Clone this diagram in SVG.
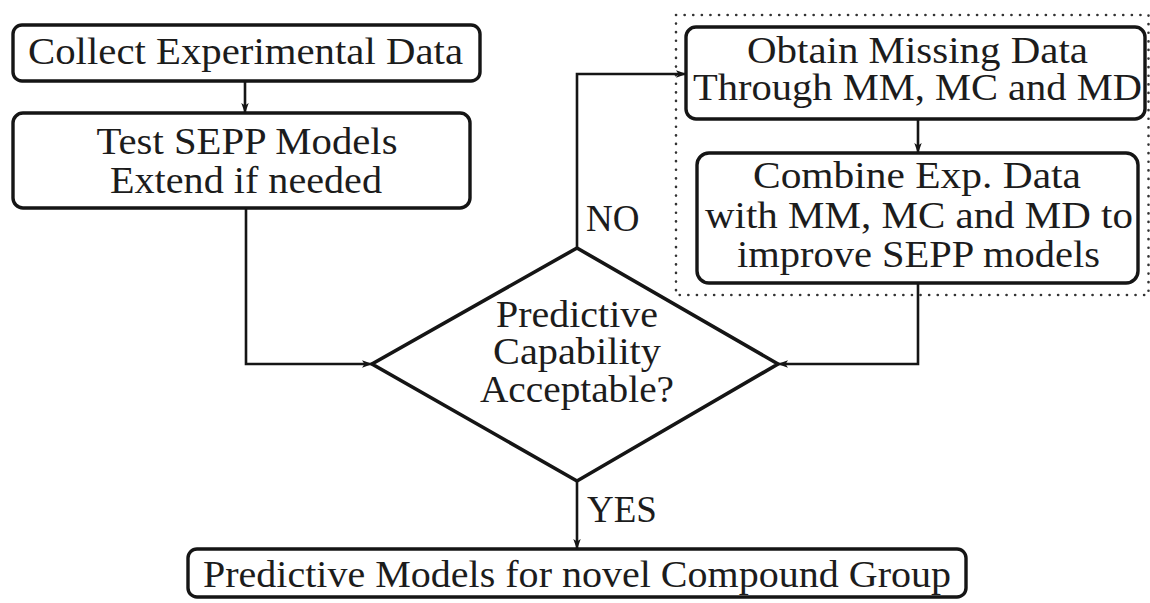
<svg xmlns="http://www.w3.org/2000/svg" width="1150" height="603" viewBox="0 0 1150 603">
  <defs>
    <marker id="tip" markerUnits="userSpaceOnUse" markerWidth="11" markerHeight="9" refX="10" refY="4.5" orient="auto">
      <path d="M0,0.8 L10.5,4.5 L0,8.2 L2.5,4.5 z" fill="#151515"/>
    </marker>
    <style>
      .box { fill: #fff; stroke: #151515; stroke-width: 3.4; }
      .dec { fill: #fff; stroke: #151515; stroke-width: 3.6; stroke-linejoin: miter; }
      .wire { fill: none; stroke: #151515; stroke-width: 2.6; marker-end: url(#tip); }
      .group { fill: none; stroke: #333; stroke-width: 2.6; stroke-dasharray: 0.1 8.5; stroke-linecap: round; }
      text { font-family: "Liberation Serif", "DejaVu Serif", serif; font-size: 37px; fill: #1c1c1c; }
      .c { text-anchor: middle; }
    </style>
  </defs>

  <rect width="1150" height="603" fill="#fff"/>

  <!-- dotted frame around the simulation steps -->
  <rect class="group" x="676" y="15" width="472.5" height="280"/>

  <g id="collect">
    <rect class="box" x="13" y="25" width="467" height="56" rx="9"/>
    <text class="c" x="245.5" y="64" textLength="435" lengthAdjust="spacingAndGlyphs">Collect Experimental Data</text>
  </g>

  <g id="test">
    <rect class="box" x="13" y="113" width="457" height="95" rx="10"/>
    <text class="c" x="247" y="154" textLength="301" lengthAdjust="spacingAndGlyphs">Test SEPP Models</text>
    <text class="c" x="246" y="193" textLength="272" lengthAdjust="spacingAndGlyphs">Extend if needed</text>
  </g>

  <g id="obtain">
    <rect class="box" x="686" y="27" width="459" height="92" rx="10"/>
    <text class="c" x="917.5" y="63" textLength="341" lengthAdjust="spacingAndGlyphs">Obtain Missing Data</text>
    <text class="c" x="917.5" y="100" textLength="449" lengthAdjust="spacingAndGlyphs">Through MM, MC and MD</text>
  </g>

  <g id="combine">
    <rect class="box" x="697" y="153" width="441" height="130" rx="12"/>
    <text class="c" x="917" y="188" textLength="328" lengthAdjust="spacingAndGlyphs">Combine Exp. Data</text>
    <text class="c" x="919" y="228" textLength="428" lengthAdjust="spacingAndGlyphs">with MM, MC and MD to</text>
    <text class="c" x="918.5" y="267" textLength="363" lengthAdjust="spacingAndGlyphs">improve SEPP models</text>
  </g>

  <g id="decision">
    <polygon class="dec" points="577,248 778,364 577,481 372,364"/>
    <text class="c" x="577" y="327" textLength="162" lengthAdjust="spacingAndGlyphs">Predictive</text>
    <text class="c" x="577" y="364" textLength="168" lengthAdjust="spacingAndGlyphs">Capability</text>
    <text class="c" x="577" y="402" textLength="194" lengthAdjust="spacingAndGlyphs">Acceptable?</text>
  </g>

  <g id="result">
    <rect class="box" x="188" y="549" width="778" height="48" rx="9"/>
    <text class="c" x="577" y="587" textLength="748" lengthAdjust="spacingAndGlyphs">Predictive Models for novel Compound Group</text>
  </g>

  <g id="connectors">
    <path class="wire" d="M245,81 V113"/>
    <path class="wire" d="M246,208 V364 H372"/>
    <path class="wire" d="M577,248 V74 H686"/>
    <path class="wire" d="M918,119 V153"/>
    <path class="wire" d="M918,283 V364 H778"/>
    <path class="wire" d="M577,481 V549"/>
    <text x="586" y="231">NO</text>
    <text x="587" y="522">YES</text>
  </g>
</svg>
